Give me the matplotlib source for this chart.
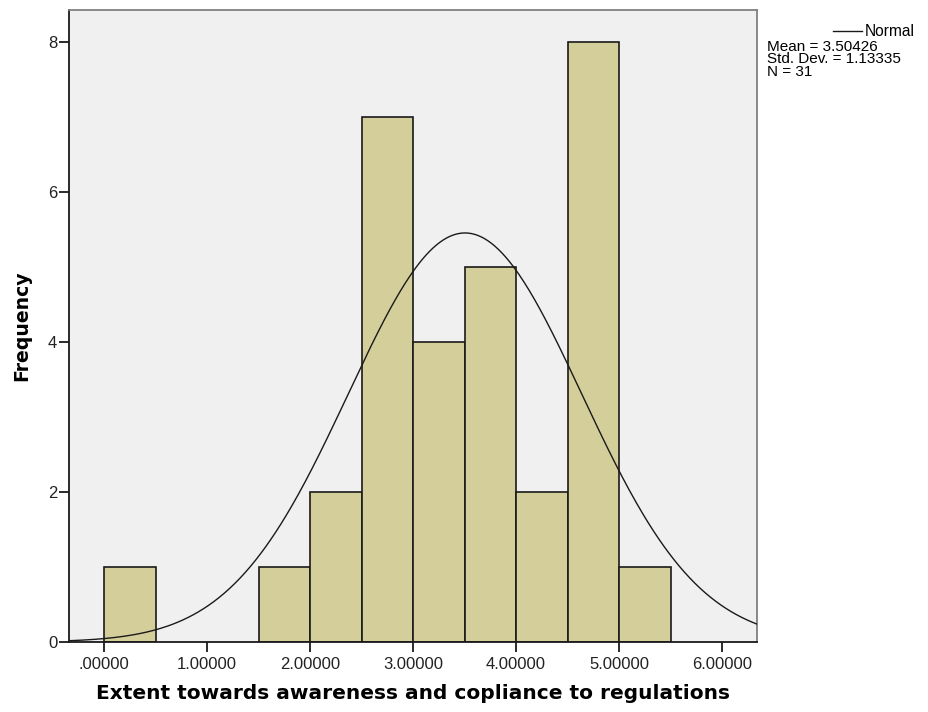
import numpy as np
import matplotlib
matplotlib.use("Agg")
import matplotlib.pyplot as plt

# histogram bins (width 0.5) and counts
bin_edges = [0.0, 0.5, 1.0, 1.5, 2.0, 2.5, 3.0, 3.5, 4.0, 4.5, 5.0, 5.5]
counts = [1, 0, 0, 1, 2, 7, 4, 5, 2, 8, 1]
mean = 3.50426
std = 1.13335
n = 31
x_ticks = [0, 1, 2, 3, 4, 5, 6]
x_tick_labels = [".00000", "1.00000", "2.00000", "3.00000", "4.00000", "5.00000", "6.00000"]
y_ticks = [0, 2, 4, 6, 8]

fig = plt.figure(figsize=(9.29, 7.12), dpi=100)
ax = fig.add_axes([0.0743, 0.0983, 0.7406, 0.8877])
ax.set_facecolor("#f0f0f0")

lefts = bin_edges[:-1]
widths = np.diff(bin_edges)
for l, w, c in zip(lefts, widths, counts):
    if c > 0:
        ax.bar(l, c, width=w, align="edge", color="#d3ce9a",
               edgecolor="#1a1a1a", linewidth=1.2, zorder=2)

# normal curve scaled to counts
xlim = (-0.34, 6.34)
xs = np.linspace(xlim[0], xlim[1], 400)
bw = bin_edges[1] - bin_edges[0]
ys = n * bw * np.exp(-0.5 * ((xs - mean) / std) ** 2) / (std * np.sqrt(2 * np.pi))
ax.plot(xs, ys, color="#1a1a1a", linewidth=1.0, zorder=3)

ax.set_xlim(*xlim)
ax.set_ylim(0, 8.43)
ax.set_xticks(x_ticks)
ax.set_xticklabels(x_tick_labels, fontfamily="Liberation Sans", fontsize=12, color="#222222")
ax.set_yticks(y_ticks)
ax.set_yticklabels([str(v) for v in y_ticks], fontfamily="Liberation Sans", fontsize=12, color="#222222")
ax.tick_params(axis="x", length=7, width=1.3, color="#1a1a1a", pad=3.5)
ax.tick_params(axis="y", length=7, width=1.3, color="#1a1a1a", pad=1.5)

for side in ("left", "bottom"):
    ax.spines[side].set_color("#1a1a1a")
    ax.spines[side].set_linewidth(1.3)
for side in ("top", "right"):
    ax.spines[side].set_color("#808080")
    ax.spines[side].set_linewidth(1.3)

ax.set_xlabel("Extent towards awareness and copliance to regulations",
              fontweight="bold", fontsize=14.5, labelpad=9)
ax.set_ylabel("Frequency", fontweight="bold", fontsize=13.6, labelpad=12)

# SPSS-style legend with statistics
fig.add_artist(plt.Line2D([833 / 929, 862 / 929], [1 - 31 / 712, 1 - 31 / 712],
                          color="#1a1a1a", linewidth=1.0))
fig.text(865 / 929, 1 - 32 / 712, "Normal", fontfamily="Liberation Sans",
         fontsize=11.2, va="center")
stats = f"Mean = {mean:.5f}\nStd. Dev. = {std:.5f}\nN = {n}"
fig.text(767 / 929, 1 - 40 / 712, stats, fontfamily="Liberation Sans",
         fontsize=11, va="top", linespacing=0.86)

fig.savefig("out.png", dpi=100)
